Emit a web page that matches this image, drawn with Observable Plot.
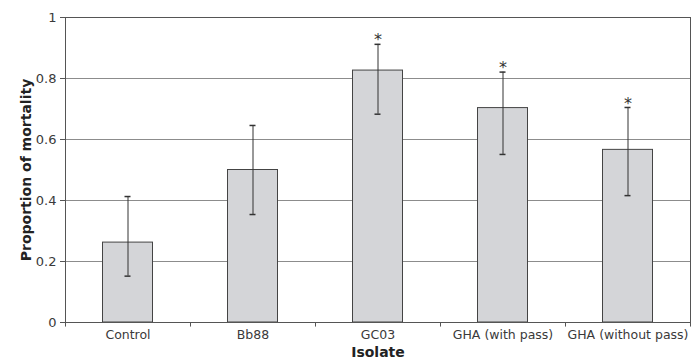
<!DOCTYPE html>
<html><head><meta charset="utf-8">
<script src="https://cdn.jsdelivr.net/npm/d3@7"></script>
<script src="https://cdn.jsdelivr.net/npm/@observablehq/plot@0.6"></script>
<style>
body{margin:0;background:#fff;}
svg{font-family:"DejaVu Sans",Verdana,sans-serif;}
g[aria-label="y-axis label"] text, g[aria-label="x-axis label"] text{font-weight:bold;font-size:14px;fill:#222;}
</style></head>
<body><div id="chart"></div>
<script>
const categories = ["Control","Bb88","GC03","GHA (with pass)","GHA (without pass)"];
const values = [0.262, 0.500, 0.826, 0.703, 0.566];
const errLow = [0.152, 0.354, 0.683, 0.551, 0.416];
const errHigh = [0.413, 0.646, 0.912, 0.821, 0.705];
const significant = [false, false, true, true, true];
const yTicks = [0, 0.2, 0.4, 0.6, 0.8, 1];

const data = categories.map((c,i)=>({name:c, value:values[i], lo:errLow[i], hi:errHigh[i], sig:significant[i]}));

const W = 700, H = 362, mL = 65, mR = 10, mT = 17, mB = 40;
const step = (W - mL - mR) / categories.length;
const barInset = step * 0.3;
const capInset = step / 2 - 3;

const chart = Plot.plot({
  width: W, height: H,
  marginLeft: mL, marginRight: mR, marginTop: mT, marginBottom: mB,
  style: {fontFamily: '"DejaVu Sans",Verdana,sans-serif', fontSize: "12px", color: "#3a3a3a"},
  x: {domain: categories, padding: 0, label: null},
  y: {domain: [0,1], label: null},
  marks: [
    Plot.ruleY(yTicks.filter(d=>d>0), {stroke:"#8c8c8c", strokeWidth:1}),
    Plot.barY(data, {x:"name", y:"value", fill:"#d4d5d8", stroke:"#444", strokeWidth:1, insetLeft:barInset, insetRight:barInset}),
    Plot.ruleX(data, {x:"name", y1:"lo", y2:"hi", stroke:"#333", strokeWidth:1}),
    Plot.tickY(data, {x:"name", y:"hi", stroke:"#333", strokeWidth:1.5, insetLeft:capInset, insetRight:capInset}),
    Plot.tickY(data, {x:"name", y:"lo", stroke:"#333", strokeWidth:1.5, insetLeft:capInset, insetRight:capInset}),
    Plot.text(data.filter(d=>d.sig), {x:"name", y:"hi", text:()=>"*", dy:-4, fontSize:16, fill:"#333", textAnchor:"middle"}),
    Plot.frame({stroke:"#555"}),
    Plot.axisY({ticks: yTicks, tickFormat: d=>String(d), tickSize:5, tickPadding:4, stroke:"#555",
      label:"Proportion of mortality", labelAnchor:"center", labelArrow:"none", labelOffset:44, fontSize:13}),
    Plot.axisX({tickSize:0, tickPadding:8, label:"Isolate", labelAnchor:"center", labelArrow:"none", labelOffset:34, fontSize:12.5}),
    Plot.ruleX(categories, {x:d=>d, y1:0, y2:-0.015, dx:-step/2, stroke:"#555"}),
    Plot.ruleX(categories.slice(-1), {x:d=>d, y1:0, y2:-0.015, dx:step/2, stroke:"#555"})
  ]
});
document.getElementById("chart").appendChild(chart);
</script></body></html>
